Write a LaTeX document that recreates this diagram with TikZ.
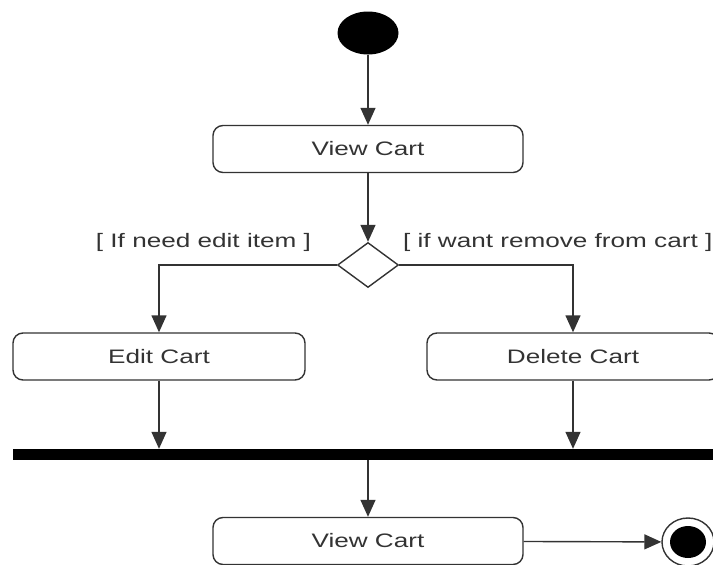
\documentclass[tikz,border=0pt]{standalone}
\usepackage{fontspec}
\setmainfont[FakeStretch=1.34]{Liberation Sans}
\usetikzlibrary{shapes.geometric,arrows.meta,positioning}
\definecolor{ink}{HTML}{333333}
\tikzstyle{line} = [draw=ink, line width=1.4pt, -{Triangle[width=15pt,length=17pt]}]
\tikzstyle{activity} = [draw=ink, line width=1.4pt, rectangle, rounded corners=10pt, text=ink, minimum width=310pt, minimum height=47pt, font=\fontsize{19.5}{23}\selectfont]
\tikzstyle{choice} = [draw=ink, line width=1.4pt, diamond, minimum width=61pt, minimum height=45pt, inner sep=0pt]
\tikzstyle{guard} = [text=ink, font=\fontsize{19.5}{23}\selectfont]
\tikzstyle{bar} = [rectangle, fill=black, minimum width=700pt, minimum height=11pt, inner sep=0pt]

\begin{document}
\begin{tikzpicture}[x=1pt, y=-1pt, node distance=116pt]
        \useasboundingbox (0,0) rectangle (713,565);
        \node[ellipse, fill=black, minimum width=61pt, minimum height=43pt, inner sep=0pt] (origin) at (368,33) {};
        \node[activity, below of=origin] (view) {View Cart};
        \node[choice, below of=view] (branch) {};
        \node[activity, minimum width=292pt] (edit) at (159,356.5) {Edit Cart};
        \node[activity, minimum width=292pt] (delete) at (573,356.5) {Delete Cart};
        \node[bar] (join) at (363,454.5) {};
        \node[activity] (review) at (368,541) {View Cart};
        \node[ellipse, draw=ink, line width=1.4pt, minimum width=52pt, minimum height=48pt, inner sep=0pt,
              path picture={\fill (path picture bounding box.center) ellipse (18pt and 16pt);}] (stop) at (688,542) {};
        \path[line] (origin) -- (view);
        \path[line] (view) -- (branch);
        \path[line] (branch.west) -| node[guard, pos=0.375, above=9pt] {[ If need edit item ]} (edit.north);
        \path[line] (branch.east) -| node[guard, pos=0.456, above=9pt] {[ if want remove from cart ]} (delete.north);
        \path[line] (edit) -- (edit |- join.north);
        \path[line] (delete) -- (delete |- join.north);
        \path[line] (review |- join.south) -- (review);
        \path[line] (review) -- (stop);
    \end{tikzpicture}
\end{document}
